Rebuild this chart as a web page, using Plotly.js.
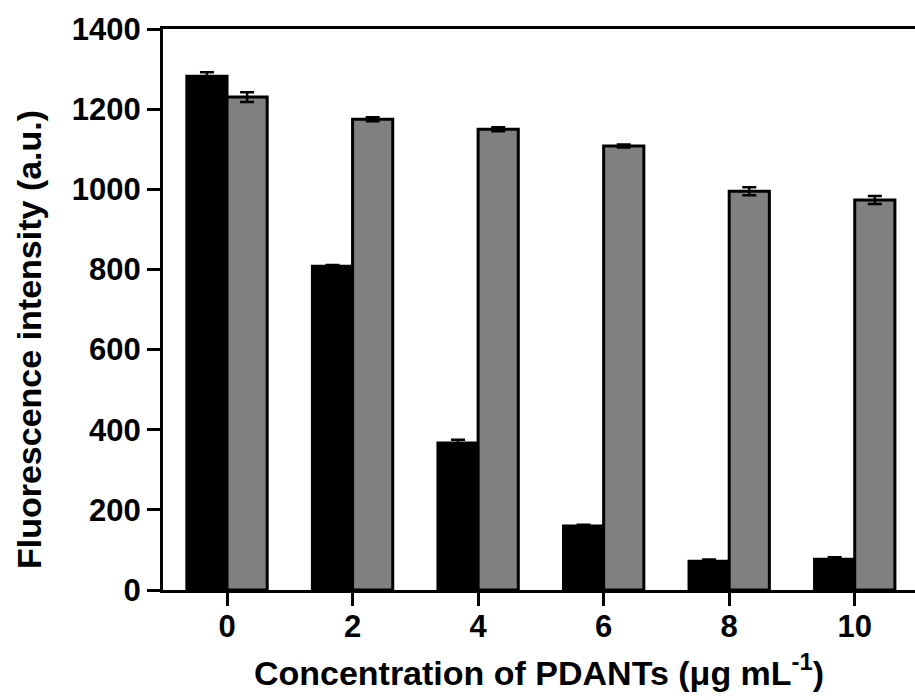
<!DOCTYPE html>
<html>
<head>
<meta charset="utf-8">
<script src="https://cdn.plot.ly/plotly-3.0.1.min.js"></script>
<style>html,body{margin:0;padding:0;background:#fff;}#chart{width:915px;height:700px;}</style>
</head>
<body>
<div id="chart"></div>
<script>
const categories = ["0", "2", "4", "6", "8", "10"];
const seriesBlack = [1282, 808, 367, 160, 72, 77];
const errBlack = [10, 3, 8, 3, 4, 5];
const seriesGray = [1230, 1175, 1150, 1108, 995, 973];
const errGray = [12, 5, 5, 4, 10, 10];
const yTickVals = [0, 200, 400, 600, 800, 1000, 1200, 1400];
const xTitle = "Concentration of PDANTs (μg mL<sup>-1</sup>)";
const yTitle = "Fluorescence intensity (a.u.)";

const FONT = "Liberation Sans, Arial, Helvetica, sans-serif";

const traces = [
  {
    type: "bar", x: categories, y: seriesBlack, name: "A",
    marker: {color: "#000000", line: {color: "#000000", width: 3}},
    error_y: {type: "data", array: errBlack, visible: true, color: "#000000", thickness: 2.5, width: 7}
  },
  {
    type: "bar", x: categories, y: seriesGray, name: "B",
    marker: {color: "#808080", line: {color: "#000000", width: 3}},
    error_y: {type: "data", array: errGray, visible: true, color: "#000000", thickness: 2.5, width: 7}
  }
];

const layout = {
  width: 915, height: 700,
  margin: {l: 163, r: 0, t: 29, b: 110},
  paper_bgcolor: "#ffffff", plot_bgcolor: "#ffffff",
  showlegend: false,
  barmode: "group", bargap: 0.36, bargroupgap: 0,
  font: {family: FONT, color: "#000000"},
  xaxis: {
    type: "category",
    range: [-0.51, 5.48],
    showgrid: false, zeroline: false,
    showline: true, linecolor: "#000000", linewidth: 3, mirror: true,
    ticks: "outside", ticklen: 13, tickwidth: 3, tickcolor: "#000000",
    ticklabelstandoff: -6,
    tickfont: {family: FONT, size: 31, weight: "bold", color: "#000000"},
    title: {text: xTitle, font: {family: FONT, size: 34, weight: "bold", color: "#000000"}, standoff: 18}
  },
  yaxis: {
    range: [0, 1400],
    tickvals: yTickVals,
    showgrid: false, zeroline: false,
    showline: true, linecolor: "#000000", linewidth: 3, mirror: false,
    ticks: "outside", ticklen: 13, tickwidth: 3, tickcolor: "#000000",
    tickfont: {family: FONT, size: 31, weight: "bold", color: "#000000"}
  },
  annotations: [{
    text: yTitle, textangle: -90, showarrow: false,
    xref: "paper", yref: "paper", x: 0, y: 0.4456,
    xanchor: "center", yanchor: "middle", xshift: -134,
    font: {family: FONT, size: 34, weight: "bold", color: "#000000"}
  }]
};

Plotly.newPlot("chart", traces, layout, {displayModeBar: false, staticPlot: true});
</script>
</body>
</html>
